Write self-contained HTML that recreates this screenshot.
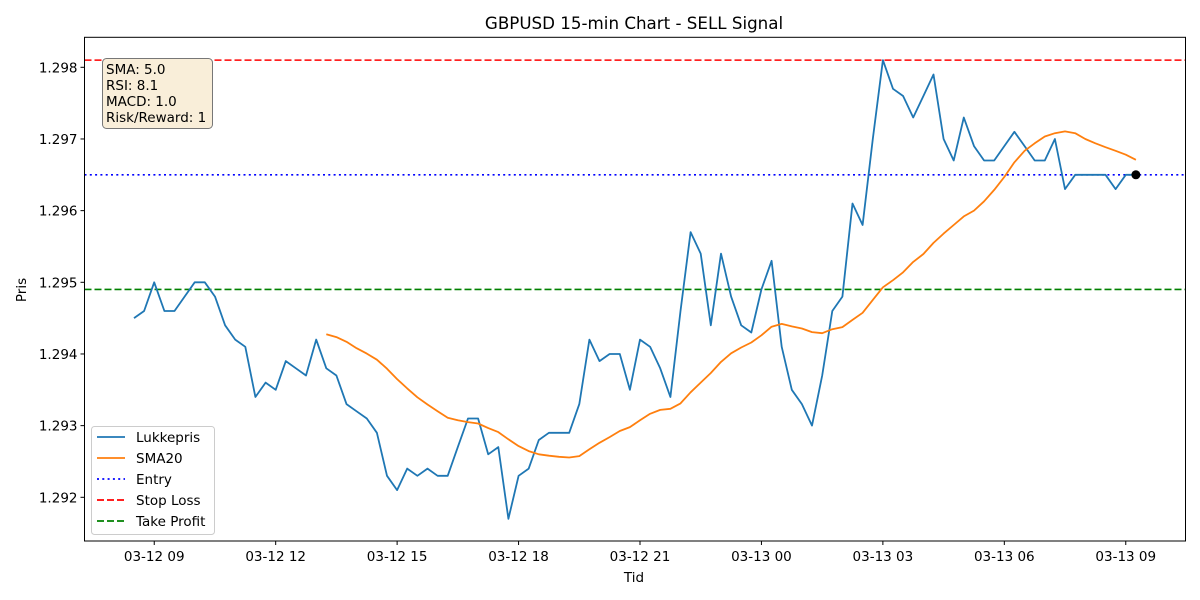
<!DOCTYPE html>
<html><head><meta charset="utf-8"><style>
html,body{margin:0;padding:0;background:#fff;}
svg{display:block;font-family:"DejaVu Sans","Liberation Sans",sans-serif;}
</style></head><body>
<svg id="chart" width="1200" height="600" viewBox="0 0 1200 600">
<rect width="1200" height="600" fill="#fff"/>
<text x="634" y="29" text-anchor="middle" font-size="16.7" fill="#000">GBPUSD 15-min Chart - SELL Signal</text>
<g id="plot"></g>
</svg>
<script>
const closes = [1.2945,1.2946,1.2950,1.2946,1.2946,1.2948,1.2950,1.2950,1.2948,1.2944,
1.2942,1.2941,1.2934,1.2936,1.2935,1.2939,1.2938,1.2937,1.2942,1.2938,
1.2937,1.2933,1.2932,1.2931,1.2929,1.2923,1.2921,1.2924,1.2923,1.2924,
1.2923,1.2923,1.2927,1.2931,1.2931,1.2926,1.2927,1.2917,1.2923,1.2924,
1.2928,1.2929,1.2929,1.2929,1.2933,1.2942,1.2939,1.2940,1.2940,1.2935,
1.2942,1.2941,1.2938,1.2934,1.2946,1.2957,1.2954,1.2944,1.2954,1.2948,
1.2944,1.2943,1.2949,1.2953,1.2941,1.2935,1.2933,1.2930,1.2937,1.2946,
1.2948,1.2961,1.2958,1.2970,1.2981,1.2977,1.2976,1.2973,1.2976,1.2979,
1.2970,1.2967,1.2973,1.2969,1.2967,1.2967,1.2969,1.2971,1.2969,1.2967,
1.2967,1.2970,1.2963,1.2965,1.2965,1.2965,1.2965,1.2963,1.2965,1.2965];
const smaWindow = 20;
const entryLevel = 1.2965;
const stopLoss = 1.2981;
const takeProfit = 1.2949;
const yTicks = [1.292,1.293,1.294,1.295,1.296,1.297,1.298];
const xTickIdx = [2,14,26,38,50,62,74,86,98];
const xTickLabels = ["03-12 09","03-12 12","03-12 15","03-12 18","03-12 21","03-13 00","03-13 03","03-13 06","03-13 09"];
const infoLines = ["SMA: 5.0","RSI: 8.1","MACD: 1.0","Risk/Reward: 1"];

const NS="http://www.w3.org/2000/svg";
const L=84.5,R=1185.5,T=37.3,B=541;
const FS=13.5;
function xs(i){return 134+i*10.12;}
function ys(v){return 67.3+(1.298-v)*71667;}
const g=document.getElementById('plot');
function el(tag,attrs,parent){const e=document.createElementNS(NS,tag);for(const k in attrs)e.setAttribute(k,attrs[k]);(parent||g).appendChild(e);return e;}

const lines=[[stopLoss,'#ff0000','7,3','stop-loss-line'],[entryLevel,'#0000ff','2,3.3','entry-line'],[takeProfit,'#008000','7,3','take-profit-line']];
lines.forEach(l=>{
  const e=el('line',{x1:L,x2:R,y1:ys(l[0]),y2:ys(l[0]),stroke:l[1],'stroke-width':1.6,'stroke-dasharray':l[2]});
  
  
});

let d='';closes.forEach((v,i)=>{d+=(i?'L':'M')+xs(i).toFixed(1)+','+ys(v).toFixed(1);});
const cl=el('path',{d:d,fill:'none',stroke:'#1f77b4','stroke-width':1.8,'stroke-linejoin':'round'});



let ds='';
for(let i=smaWindow-1;i<closes.length;i++){let s=0;for(let j=i-smaWindow+1;j<=i;j++)s+=closes[j];s/=smaWindow;ds+=(i===smaWindow-1?'M':'L')+xs(i).toFixed(1)+','+ys(s).toFixed(1);}
const sl=el('path',{d:ds,fill:'none',stroke:'#ff7f0e','stroke-width':1.8,'stroke-linejoin':'round'});



const last=closes.length-1;
const dot=el('circle',{cx:xs(last),cy:ys(closes[last]),r:4.5,fill:'#000'});



const fr=el('rect',{x:L,y:T,width:R-L,height:B-T,fill:'none',stroke:'#000','stroke-width':1});



yTicks.forEach(v=>{
  const y=ys(v);
  el('line',{x1:L-4,x2:L,y1:y,y2:y,stroke:'#000'});
  const t=el('text',{x:L-7,y:y+5,'text-anchor':'end','font-size':FS});
  t.textContent=v.toFixed(3);
  
  
});
xTickIdx.forEach((idx,k)=>{
  const x=xs(idx);
  el('line',{x1:x,x2:x,y1:B,y2:B+4,stroke:'#000'});
  const t=el('text',{x:x,y:B+20,'text-anchor':'middle','font-size':FS});
  t.textContent=xTickLabels[k];
  
  
});
const xt=el('text',{x:634,y:582,'text-anchor':'middle','font-size':FS});xt.textContent='Tid';


const yt=el('text',{x:0,y:0,'text-anchor':'middle','font-size':FS,transform:'translate(26,290) rotate(-90)'});yt.textContent='Pris';



const ib=el('rect',{x:102.5,y:58.5,width:110,height:70,rx:4,fill:'#f9eed9',stroke:'#777','stroke-width':1});


infoLines.forEach((s,i)=>{
  const t=el('text',{x:106,y:74+i*16,'font-size':FS});t.textContent=s;
  
  
});

const lg=el('rect',{x:91.5,y:426.5,width:123,height:108,rx:3,fill:'#fff','fill-opacity':0.8,stroke:'#ccc'});


const leg=[['Lukkepris','#1f77b4',''],['SMA20','#ff7f0e',''],['Entry','#0000ff','2,3.3'],['Stop Loss','#ff0000','7,3'],['Take Profit','#008000','7,3']];
leg.forEach((e,i)=>{
  const y=437+i*21;
  const a={x1:97,x2:125,y1:y,y2:y,stroke:e[1],'stroke-width':1.8};
  if(e[2])a['stroke-dasharray']=e[2];
  el('line',a);
  const t=el('text',{x:136,y:y+5,'font-size':FS});t.textContent=e[0];
  
  
});
</script>
</body></html>
